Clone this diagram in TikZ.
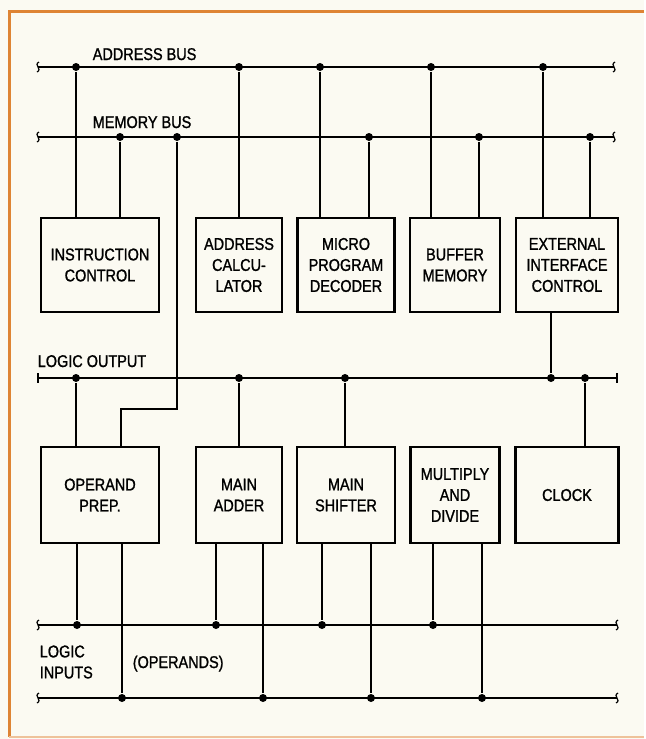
\documentclass[tikz,border=0pt]{standalone}
\usepackage{fontspec}
\setmainfont[FakeStretch=0.85,FakeBold=1.2]{Liberation Sans}
\usetikzlibrary{calc}
\definecolor{paper}{RGB}{251,250,242}
\definecolor{frame}{RGB}{222,132,52}

\begin{document}
\begin{tikzpicture}[x=1pt,y=-1pt,font=\fontsize{17}{21}\selectfont,line width=1.6pt]
\tikzstyle{blk}=[draw,line width=2.8pt,align=center,inner sep=2pt]
\tikzstyle{dot}=[circle,fill,inner sep=0pt,minimum size=8pt]
\tikzstyle{lbl}=[anchor=base west,inner sep=0pt]
% paper and frame
\fill[paper] (0,0) rectangle (644,739);
\draw[frame,line width=3pt] (644,11) -- (9,11) -- (9,737);
\draw[frame!50,line width=2pt] (9,737) -- (644,737);
% buses
\coordinate (abW) at (38,67);  \coordinate (abE) at (614,67);
\coordinate (mbW) at (38,137); \coordinate (mbE) at (614,137);
\coordinate (loW) at (38,378); \coordinate (loE) at (617,378);
\coordinate (liW) at (38,625); \coordinate (liE) at (617,625);
\coordinate (lpW) at (38,698); \coordinate (lpE) at (617,698);
\foreach \b in {ab,mb,lo,li,lp} \draw (\b W) -- (\b E);
\foreach \e in {abW,abE,mbW,mbE,liW,liE,lpW,lpE}
 \draw[line width=1.2pt] ($(\e)+(-1,5)$) .. controls ($(\e)+(5,2)$) and ($(\e)+(-5,-2)$) .. ($(\e)+(1,-5)$);
\foreach \e in {loW,loE} \draw[line width=1.2pt] ($(\e)+(0,-5)$) -- ($(\e)+(0,5)$);
\node[lbl] (abl) at (92,60) {ADDRESS BUS};
\node[lbl] (mbl) at (92,128) {MEMORY BUS};
\node[lbl] (lol) at (37,367) {LOGIC OUTPUT};
\node[lbl,anchor=west,align=left] (lil) at (39,662) {LOGIC\\INPUTS};
\node[lbl] (opl) at (132,668) {(OPERANDS)};
% blocks
\foreach \n/\x/\w/\t in {ic/100/118/{INSTRUCTION\\CONTROL},ac/239/86/{ADDRESS\\CALCU-\\LATOR},
  mpd/346/97/{MICRO\\PROGRAM\\DECODER},bm/455/90/{BUFFER\\MEMORY},eic/567/102/{EXTERNAL\\INTERFACE\\CONTROL}}
 \node[blk,minimum width=\w pt,minimum height=94pt] (\n) at (\x,265) {\t};
\foreach \n/\x/\w/\t in {op/100/118/{OPERAND\\PREP.},ma/239/86/{MAIN\\ADDER},
  ms/346/98/{MAIN\\SHIFTER},md/455/89/{MULTIPLY\\AND\\DIVIDE},clk/567/103/{CLOCK}}
 \node[blk,minimum width=\w pt,minimum height=96pt] (\n) at (\x,495) {\t};
% taps
\foreach \x [count=\i] in {76,239,320,431,543} \node[dot] (a\i) at (\x,67) {};
\foreach \x [count=\i] in {120,177,369,479,590} \node[dot] (m\i) at (\x,137) {};
\foreach \x [count=\i] in {76,239,345,551,585} \node[dot] (o\i) at (\x,378) {};
\foreach \x [count=\i] in {77,216,322,433} \node[dot] (p\i) at (\x,625) {};
\foreach \x [count=\i] in {122,263,371,482} \node[dot] (q\i) at (\x,698) {};
% connections
\draw (a1) -- (a1 |- ic.north);  \draw (m1) -- (m1 |- ic.north);
\draw (a2) -- (a2 |- ac.north);
\draw (a3) -- (a3 |- mpd.north); \draw (m3) -- (m3 |- mpd.north);
\draw (a4) -- (a4 |- bm.north);  \draw (m4) -- (m4 |- bm.north);
\draw (a5) -- (a5 |- eic.north); \draw (m5) -- (m5 |- eic.north);
\coordinate (jog) at (121,409);
\draw (m2) |- (jog) -- (jog |- op.north);
\draw (eic.south -| o4) -- (o4);
\draw (o1) -- (o1 |- op.north); \draw (o2) -- (o2 |- ma.north);
\draw (o3) -- (o3 |- ms.north); \draw (o5) -- (o5 |- clk.north);
\foreach \i/\n in {1/op,2/ma,3/ms,4/md} {
 \draw (\n.south -| p\i) -- (p\i);
 \draw (\n.south -| q\i) -- (q\i);
}
\end{tikzpicture}
\end{document}
